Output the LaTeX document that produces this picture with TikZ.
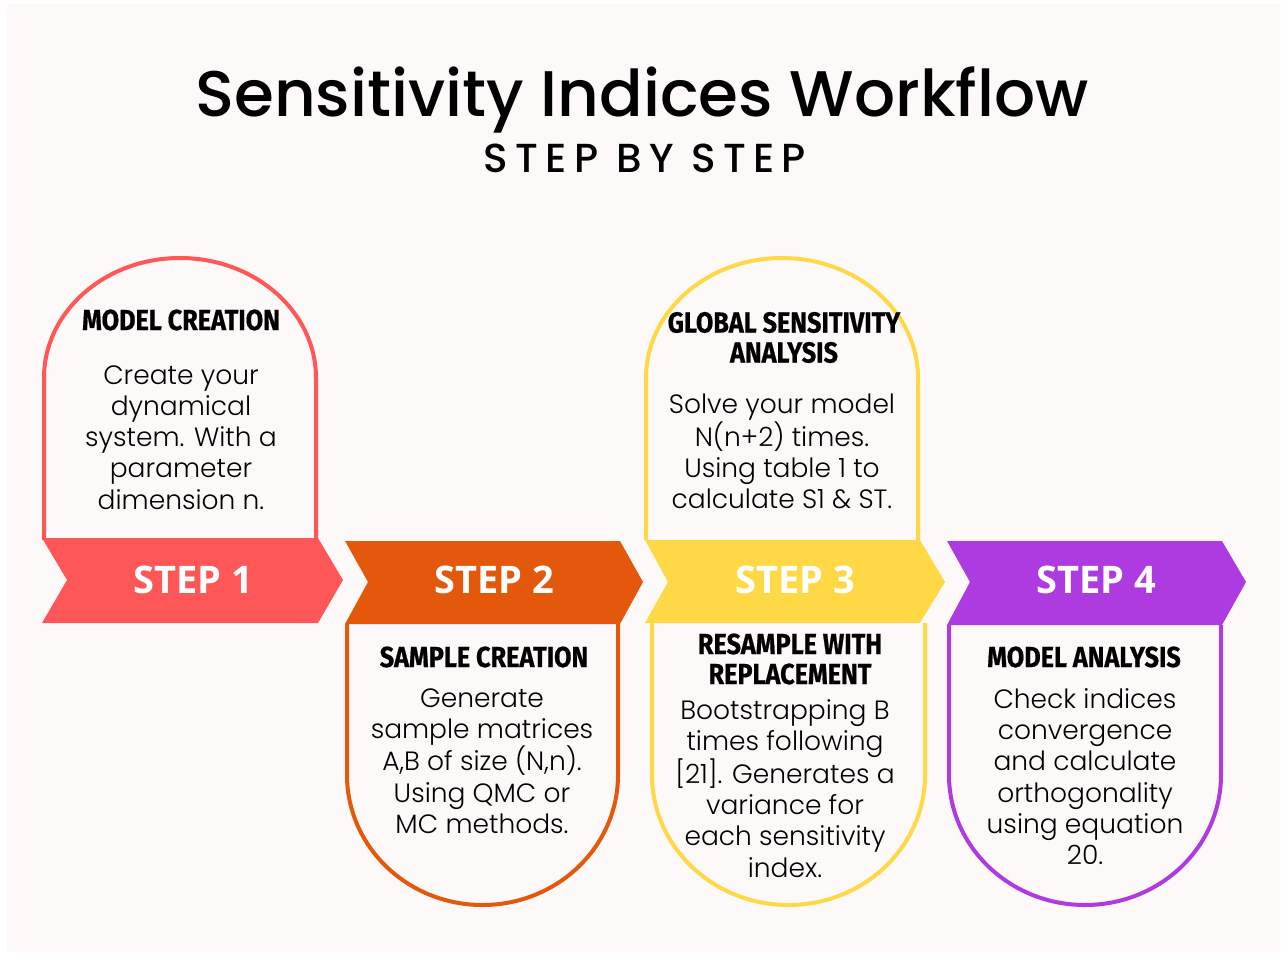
\documentclass[tikz,border=0pt]{standalone}
\usepackage{fontspec}
\setmainfont{Poppins}
\newfontfamily\titlefont{Poppins Medium}
\newfontfamily\bodyfont{Poppins Light}
\newfontfamily\headfont[FakeStretch=0.87,FakeBold=0.6]{Fira Sans Bold}
\newfontfamily\stepfont{Open Sans Bold}
\definecolor{cRed}{HTML}{FF5757}
\definecolor{cOrange}{HTML}{E4580B}
\definecolor{cYellow}{HTML}{FFD945}
\definecolor{cPurple}{HTML}{AE3BE0}
\definecolor{cBg}{HTML}{FCF9F8}
\tikzset{
  box/.style={line width=4pt},
  ribbon/.style={draw=none},
  body/.style={align=center, inner sep=0pt, font=\bodyfont\fontsize{26.5}{31.2}\selectfont},
  head/.style={align=center, inner sep=0pt, font=\headfont\fontsize{29}{30}\selectfont},
  steplbl/.style={inner sep=0pt, text=white, font=\stepfont\fontsize{38}{40}\selectfont}
}
\begin{document}
\begin{tikzpicture}[x=1pt,y=-1pt]
\fill[white] (0,0) rectangle (1285,956);
\fill[cBg] (7,4) rectangle (1280,952);
\useasboundingbox (0,0) rectangle (1285,956);

% title
\node[inner sep=0pt] (title) at (642,100) {\resizebox{893pt}{!}{\titlefont Sensitivity Indices Workflow}};
\node[inner sep=0pt] (sub) at (645,158) {\resizebox{322pt}{!}{\titlefont\addfontfeatures{LetterSpace=18} STEP BY STEP}};

% boxes
\draw[box, cRed] (44,540) -- (44,378) arc[start angle=180,end angle=0,x radius=136pt,y radius=120pt] -- (316,540);
\draw[box, cYellow] (646,540) -- (646,378) arc[start angle=180,end angle=0,x radius=136pt,y radius=120pt] -- (918,540);
\draw[box, cOrange] (347,624) -- (347,775) arc[start angle=180,end angle=360,x radius=135.5pt,y radius=130pt] -- (618,624);
\draw[box, cYellow] (652,623) -- (652,775) arc[start angle=180,end angle=360,x radius=136.5pt,y radius=130pt] -- (925,623);
\draw[box, cPurple] (949,625) -- (949,775) arc[start angle=180,end angle=360,x radius=136pt,y radius=130pt] -- (1221,625);

% ribbons
\fill[cRed] (42,538) -- (318,538) -- (343,580) -- (318,623) -- (42,623) -- (67,580) -- cycle;
\fill[cOrange] (345,541) -- (620,541) -- (643,582) -- (620,624) -- (345,624) -- (368,582) -- cycle;
\fill[cYellow] (645,540) -- (920,540) -- (945,582) -- (920,623) -- (645,623) -- (668,582) -- cycle;
\fill[cPurple] (947,541) -- (1222,541) -- (1246,582) -- (1222,625) -- (947,625) -- (970,582) -- cycle;

\node[steplbl] (s1) at (193,580) {STEP 1};
\node[steplbl] (s2) at (494,580) {STEP 2};
\node[steplbl] (s3) at (795,580) {STEP 3};
\node[steplbl] (s4) at (1096,580) {STEP 4};

% headers
\node[head] (h1) at (181,320) {MODEL CREATION};
\node[head] (h3) at (784,337.5) {GLOBAL SENSITIVITY\\ANALYSIS};
\node[head] (h2) at (484,657) {SAMPLE CREATION};
\node[head] (h3b) at (790,659) {RESAMPLE WITH\\REPLACEMENT};
\node[head] (h4) at (1084,657) {MODEL ANALYSIS};

% bodies
\node[body] (b1) at (181,437.5) {Create your\\dynamical\\system. With a\\parameter\\dimension n.};
\node[body] (b3) at (782,451.5) {Solve your model\\N(n+2) times.\\Using table 1 to\\calculate S1 \& ST.};
\node[body] (b2) at (482,761) {Generate\\sample matrices\\A,B of size (N,n).\\Using QMC or\\MC methods.};
\node[body] (b3b) at (785,788.5) {Bootstrapping B\\times following\\{[21]}. Generates a\\variance for\\each sensitivity\\index.};
\node[body] (b4) at (1085,776.5) {Check indices\\convergence\\and calculate\\orthogonality\\using equation\\20.};
\end{tikzpicture}
\end{document}
